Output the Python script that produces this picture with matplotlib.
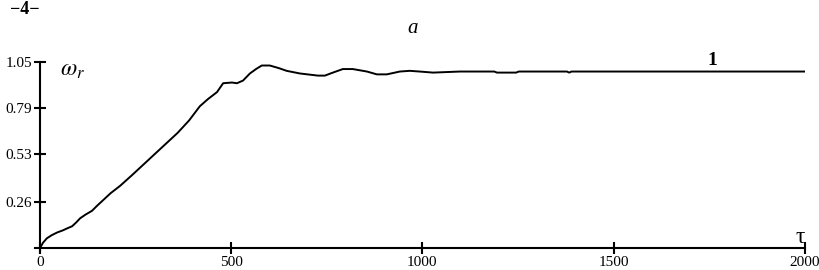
import matplotlib
matplotlib.use("Agg")
import matplotlib.pyplot as plt

# Data
tau = [0, 8, 18, 31, 45, 60, 72, 84, 95, 105, 120, 136, 150, 165, 185, 209,
       240, 270, 300, 330, 360, 390, 418, 439, 463, 479, 502, 515, 531, 549,
       565, 580, 601, 625, 645, 680, 727, 745, 766, 792, 818, 855, 881, 907,
       941, 967, 993, 1028, 1098, 1150, 1188, 1195, 1245, 1252, 1300, 1378,
       1384, 1390, 1500, 1700, 1900, 2000]
omega = [0.0, 0.03, 0.055, 0.073, 0.088, 0.10, 0.112, 0.123, 0.145, 0.168,
         0.19, 0.21, 0.24, 0.27, 0.31, 0.35, 0.41, 0.47, 0.53, 0.59, 0.65,
         0.72, 0.80, 0.84, 0.88, 0.93, 0.934, 0.93, 0.945, 0.985, 1.01, 1.03,
         1.03, 1.015, 1.00, 0.985, 0.973, 0.973, 0.99, 1.01, 1.01, 0.996,
         0.98, 0.98, 0.996, 1.0, 0.996, 0.99, 0.996, 0.996, 0.996, 0.99, 0.99,
         0.996, 0.996, 0.996, 0.99, 0.996, 0.996, 0.996, 0.996, 0.996]

xticks = [0, 500, 1000, 1500, 2000]
yticks = [0.26, 0.53, 0.79, 1.05]
ytick_labels = ["0.26", "0.53", "0.79", "1.05"]

plt.rcParams["font.family"] = ["Liberation Serif", "DejaVu Serif"]
plt.rcParams["mathtext.fontset"] = "stix"

fig = plt.figure(figsize=(8.19, 2.70), dpi=100)
ax = fig.add_axes([0.0427, 0.0615, 0.940, 0.709])

ax.plot(tau, omega, color="black", linewidth=1.4)

ax.set_xlim(-13, 2000)
ax.set_ylim(-0.03, 1.05)
ax.spines["right"].set_visible(False)
ax.spines["top"].set_visible(False)
ax.spines["left"].set_position(("data", 0))
ax.spines["bottom"].set_position(("data", 0))
ax.spines["left"].set_linewidth(1.5)
ax.spines["bottom"].set_linewidth(1.5)

ax.set_xticks(xticks)
ax.set_xticklabels([str(t) for t in xticks])
ax.set_yticks(yticks)
ax.set_yticklabels(ytick_labels)
ax.tick_params(direction="inout", length=9, width=1.5, labelsize=11)
ax.tick_params(axis="x", pad=1)
ax.tick_params(axis="y", pad=1)

ax.text(0.032, 0.955, r"$\omega_r$", transform=ax.transAxes, fontsize=17,
        va="center", ha="left")
ax.text(1.0, 0.085, "τ", transform=ax.transAxes, fontsize=17, ha="right", va="center")
ax.text(0.880, 1.01, "1", transform=ax.transAxes, fontsize=14, fontweight="bold",
        ha="center", va="center")

fig.text(0.504, 0.895, "a", fontsize=15, style="italic", ha="center", va="center")
# fragment of the previous panel's label, at the very top-left edge
fig.text(0.012, 0.995, "−4−", fontsize=13, fontweight="bold", ha="left", va="top")

fig.savefig("out.png", dpi=100)
